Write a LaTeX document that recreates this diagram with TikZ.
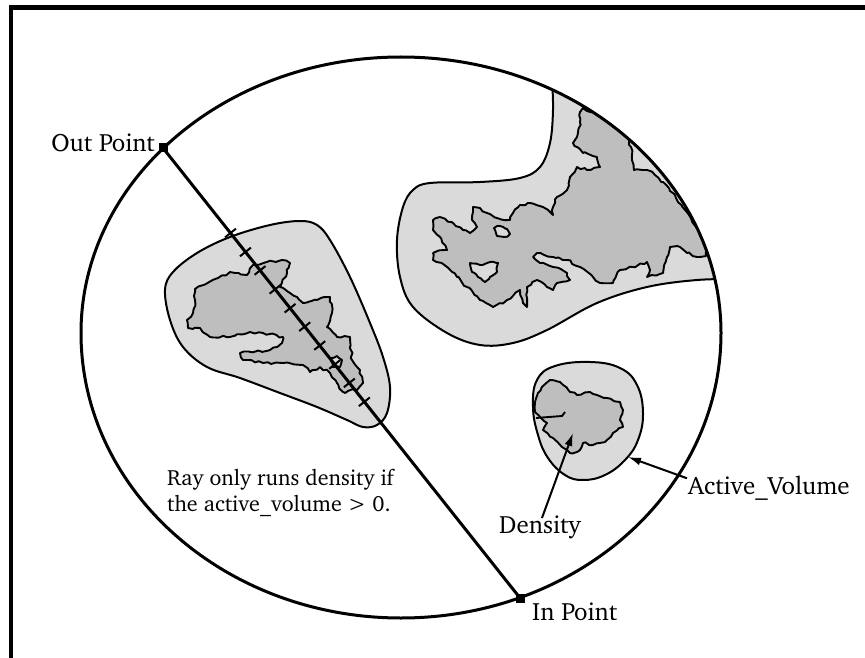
\documentclass[tikz,border=0pt]{standalone}
\usepackage[T1]{fontenc}
\usepackage{charter}
\usetikzlibrary{arrows.meta,calc,decorations.pathmorphing}
\definecolor{avfill}{RGB}{218,218,218}
\definecolor{dnfill}{RGB}{190,190,190}
\begin{document}
\begin{tikzpicture}[x=1pt,y=-1pt,
  lbl/.style={font=\fontsize{25}{29}\selectfont, inner sep=0pt},
  note/.style={font=\fontsize{22}{25.5}\selectfont, inner sep=0pt, align=left},
  active/.style={fill=avfill, draw=black, line width=2pt},
  dens/.style={fill=dnfill, draw=black, line width=1.9pt, line join=round, decorate,
     decoration={random steps, segment length=4pt, amplitude=1.3pt}},
  hole/.style={fill=avfill, draw=black, line width=1.9pt, line join=round, decorate,
     decoration={random steps, segment length=3pt, amplitude=1pt}},
  endpt/.style={fill=black, draw=none, minimum size=9pt, inner sep=0pt},
  arr/.style={line width=2pt, -{Latex[length=13pt,width=8pt]}},
  tickmark/.style={line width=2pt},
  ellpath/.style={insert path={(81,333) arc[start angle=180,end angle=0,x radius=320pt,y radius=276pt]
      arc[start angle=0,end angle=-180,x radius=320pt,y radius=285pt] -- cycle}}
]
\pgfmathsetseed{4242}
\useasboundingbox (0,0) rectangle (865,658);
\fill[white] (0,0) rectangle (865,658);
% frame
\draw[line width=4.3pt, line join=miter] (11,658) -- (11,7.5) -- (865,7.5);

% left active volume
\path[active] plot[smooth cycle, tension=0.6] coordinates {
 (165,290) (173,272) (197,253) (230,237) (270,225) (300,221) (317,225) (330,240)
 (350,277) (370,323) (383,357) (390,387) (387,413) (377,425) (363,427) (347,420)
 (317,407) (280,393) (240,378) (207,367) (183,347) (170,320)};
% left density
\path[dens] plot coordinates {
 (195,289) (218,278) (230,272) (247,275) (253,265) (267,262) (282,260) (290,263)
 (287,273) (280,287) (290,293) (297,297) (303,303) (317,300) (330,297) (332,313)
 (327,327) (337,337) (350,337) (352,360) (360,370) (363,383) (357,390) (343,392)
 (337,383) (330,373) (320,367) (310,372) (303,365) (283,363) (263,363) (243,360)
 (240,353) (250,352) (270,350) (282,343) (283,337) (263,333) (250,332) (230,337)
 (210,337) (200,328) (188,328) (187,320) (193,313) (195,300)} -- cycle;
\path[hole] (331,358) -- (337,356) -- (342,360) -- (340,367) -- (333,367) -- cycle;

% top-right active volume and density, clipped by the outer ellipse
\begin{scope}
\clip[ellpath];
\path[active] (552,40) -- plot[smooth, tension=0.6] coordinates {
 (552,80) (553,110) (550,143) (540,167) (520,178) (480,182) (430,183) (413,190)
 (403,207) (397,240) (400,277) (413,307) (447,333) (480,345) (513,343) (547,330)
 (597,303) (647,287) (697,280) (740,279)} -- (780,279) -- (780,40) -- cycle;
\path[dens] plot coordinates {
 (583,108) (600,116) (615,126) (628,137) (631,147) (632,160) (634,170) (647,170)
 (655,175) (663,182) (676,198) (689,215) (699,232) (707,250) (706,256)
 (697,257) (687,253) (680,247) (670,247) (667,257) (663,273) (647,277) (650,270)
 (647,262) (633,267) (620,270) (613,283) (600,283) (593,277) (580,267) (567,260)
 (553,257) (537,253) (533,257) (540,263) (553,267) (567,273) (570,280) (557,283)
 (553,290) (547,287) (537,280) (527,287) (527,307) (523,303) (520,290) (507,300)
 (493,307) (480,300) (467,287) (457,277) (447,267) (433,260) (433,253) (447,250)
 (440,237) (433,230) (433,220) (440,217) (453,223) (463,230) (470,233) (477,227)
 (472,220) (473,207) (480,208) (487,213) (497,218) (510,220) (513,213) (520,205)
 (530,203) (543,207) (553,215) (553,207) (557,197) (567,190) (570,177) (577,167)
 (587,170) (600,167) (597,157) (583,153) (573,143) (577,137) (580,123) (580,112)} -- cycle;
\path[hole] plot coordinates {
 (494,228) (500,226) (507,229) (510,234) (505,237) (497,236)} -- cycle;
\path[hole] plot coordinates {
 (470,263) (480,265) (490,262) (498,263) (497,272) (490,277) (485,282) (478,277) (472,272)} -- cycle;
\end{scope}

% small right active volume and density
\path[active] plot[smooth cycle, tension=0.7] coordinates {
 (590,362) (620,368) (637,385) (643,413) (638,440) (625,460) (605,475) (583,480)
 (565,475) (548,458) (538,435) (533,407) (537,380) (555,366)};
\path[dens] plot coordinates {
 (535,402) (538,393) (550,380) (560,382) (570,392) (577,395) (590,392) (597,395)
 (607,398) (620,402) (623,410) (620,420) (623,427) (613,433) (607,440) (593,445)
 (583,443) (580,450) (570,453) (562,447) (553,438) (543,430) (547,423) (541,418)
 (535,412)} -- cycle;
\draw[line width=1.9pt] (536,418) -- (562,416) -- (565,412);

% outer boundary
\draw[line width=3pt, ellpath];

% ray
\node[endpt] (outpt) at (163,148) {};
\node[endpt] (inpt) at (520,598) {};
\draw[line width=3pt] (outpt.center) -- (inpt.center);
\foreach \t in {0.189,0.231,0.272,0.314,0.356,0.397,0.439,0.481,0.522,0.564} {
  \coordinate (tk) at ($(outpt.center)!\t!(inpt.center)$);
  \draw[tickmark] ($(tk)!7pt!90:(inpt.center)$) -- ($(tk)!7pt!-90:(inpt.center)$);
}

% labels
\node[lbl, anchor=base east] (outlbl) at (155,152) {Out Point};
\node[lbl, anchor=base west] (inlbl) at (532,620) {In Point};
\node[lbl, anchor=base west] (denslbl) at (499,533) {Density};
\node[lbl, anchor=base west] (avlbl) at (688,494) {Active\_Volume};
\node[note, anchor=north west] (raynote) at (167,469) {Ray only runs density if\\the active\_volume > 0.};

% arrows
\coordinate (denstip) at (573,433);
\coordinate (avtip) at (628,457);
\draw[arr] ([xshift=2pt,yshift=-3pt]denslbl.north) -- (denstip);
\draw[arr] ([xshift=-1pt,yshift=-3pt]avlbl.north west) -- (avtip);
\end{tikzpicture}
\end{document}
